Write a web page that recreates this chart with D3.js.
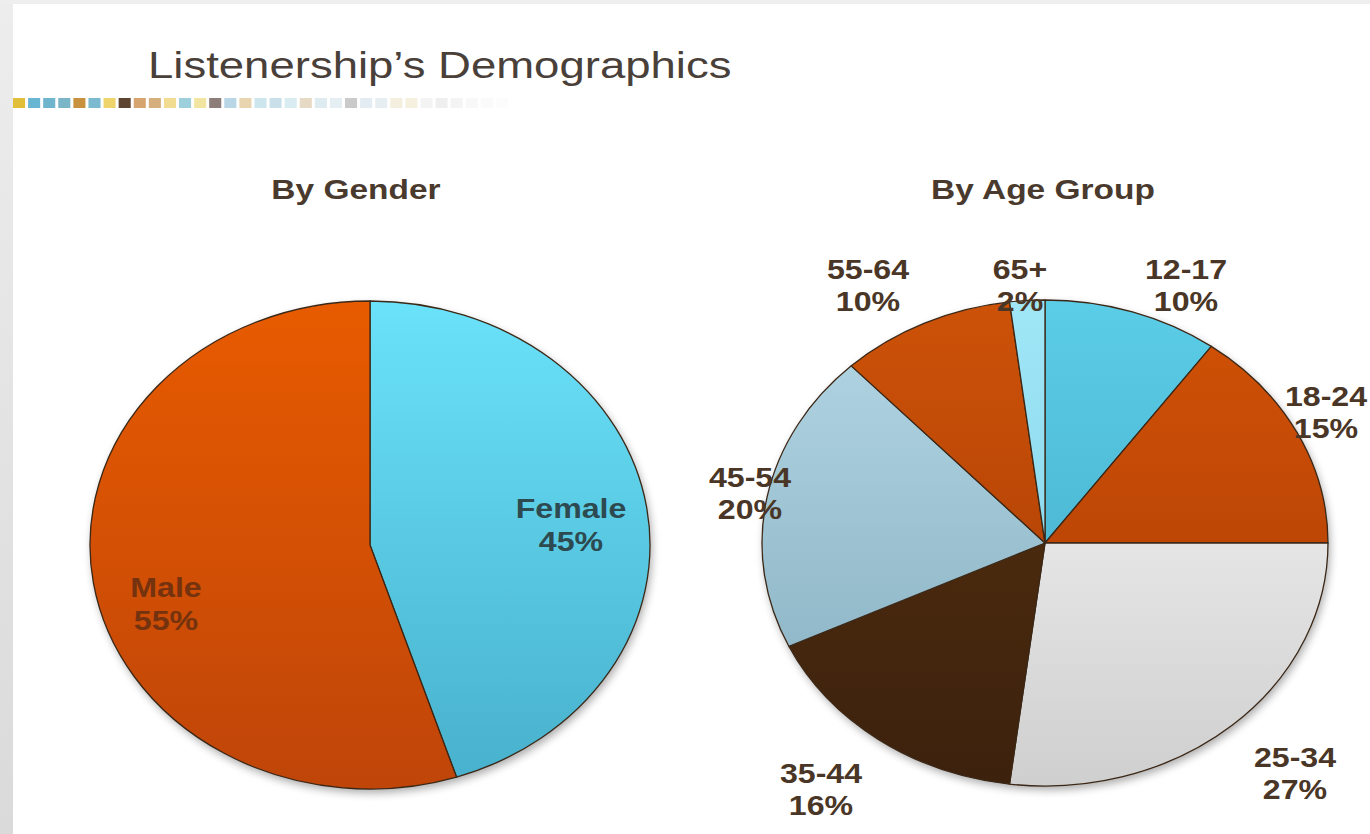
<!DOCTYPE html>
<html>
<head>
<meta charset="utf-8">
<script src="https://cdn.jsdelivr.net/npm/d3@7/dist/d3.min.js"></script>
<style>
  html, body { margin: 0; padding: 0; background: #ffffff; overflow: hidden; }
  svg { display: block; }
</style>
</head>
<body>
<svg id="chart" width="1370" height="834"></svg>
<script>
// ---- data ----
const chartTitle = "Listenership\u2019s Demographics";
const genderTitle = "By Gender";
const ageTitle = "By Age Group";

const genderCategories = ["Female", "Male"];
const genderShares = [45, 55];

const ageGroups = ["12-17", "18-24", "25-34", "35-44", "45-54", "55-64", "65+"];
const ageShares = [10, 15, 27, 16, 20, 10, 2];

// ---- styling ----
const genderFill = {
  "Female": ["#6ae2f9", "#48b0cc"],
  "Male":   ["#e85b00", "#bf4509"]
};
const ageFill = {
  "12-17": ["#5bcde7", "#41a6c3"],
  "18-24": ["#d25206", "#a93b06"],
  "25-34": ["#fbfbfb", "#cfcfcf"],
  "35-44": ["#58330f", "#3c210d"],
  "45-54": ["#b4d7e5", "#84adbe"],
  "55-64": ["#cd5208", "#a53a05"],
  "65+":   ["#a0e6f7", "#7ccfe6"]
};
const genderLabelColor = { "Female": "#2d4a50", "Male": "#74320e" };
const ageLabelColor = "#4a3626";

// label anchors (centre x, first baseline y) around each pie
const genderLabelPos = {
  "Female": [571, 518],
  "Male":   [166, 597]
};
const ageLabelPos = {
  "12-17": [1186, 279],
  "18-24": [1326, 406],
  "25-34": [1295, 767],
  "35-44": [821, 783],
  "45-54": [750, 487],
  "55-64": [868, 279],
  "65+":   [1020, 279]
};

// decorative strip under the title
const stripColors = [
  "#e2bf3a", "#69b6d2", "#70b5ce", "#7ab5c8", "#c8913f", "#7cbbcf", "#eed46b",
  "#5d4430", "#d6a46e", "#d5af7d", "#f1dc91", "#9ecfdd", "#f2e5a1", "#8d7e7a",
  "#b9d6e6", "#e8d4af", "#cde5ec", "#c9e0ea", "#d9ecf2", "#e6dac5", "#deebf1",
  "#e5eef2", "#cacaca", "#e3ecf2", "#e7eef2", "#f3eedd", "#f6f0df", "#f3f3f3",
  "#efefef", "#f4f4f4", "#f8f8f8", "#fafafa", "#fcfcfc"
];

const svg = d3.select("#chart");
const defs = svg.append("defs");

// page frame: light grey edges
const edgeGrad = defs.append("linearGradient").attr("id", "edgeGrad")
  .attr("x1", 0).attr("y1", 0).attr("x2", 0).attr("y2", 1);
edgeGrad.append("stop").attr("offset", 0).attr("stop-color", "#ededed");
edgeGrad.append("stop").attr("offset", 1).attr("stop-color", "#dadada");
svg.append("rect").attr("x", 0).attr("y", 0).attr("width", 1370).attr("height", 834).attr("fill", "#ffffff");
svg.append("rect").attr("x", 0).attr("y", 0).attr("width", 13).attr("height", 834).attr("fill", "url(#edgeGrad)");
svg.append("rect").attr("x", 0).attr("y", 0).attr("width", 1370).attr("height", 4).attr("fill", "#eeeeee");

// blur used for the shadow ellipse under each pie
const shadowBlur = defs.append("filter").attr("id", "shadowBlur")
  .attr("x", "-20%").attr("y", "-20%").attr("width", "140%").attr("height", "140%");
shadowBlur.append("feGaussianBlur").attr("stdDeviation", 4);

const stripBlur = defs.append("filter").attr("id", "stripBlur");
stripBlur.append("feGaussianBlur").attr("stdDeviation", 0.7);

// text helper: horizontally widened lettering
function addText(parent, x, y, str, opts) {
  return parent.append("text")
    .attr("transform", `translate(${x},${y}) scale(${opts.sx || 1.2},1)`)
    .attr("text-anchor", opts.anchor || "middle")
    .attr("font-family", "'Liberation Sans', Arial, sans-serif")
    .attr("font-size", opts.size)
    .attr("font-weight", opts.weight || "bold")
    .attr("fill", opts.color)
    .text(str);
}

// title + strip
addText(svg, 148, 78, chartTitle, { size: 37, weight: "normal", color: "#4a403a", anchor: "start", sx: 1.23 });
const strip = svg.append("g").attr("filter", "url(#stripBlur)");
const stripX = d3.scaleBand().domain(d3.range(stripColors.length))
  .range([13, 13 + 15 * stripColors.length]).paddingInner(0.2).paddingOuter(0);
strip.selectAll("rect").data(stripColors).join("rect")
  .attr("x", (d, i) => stripX(i))
  .attr("y", 98)
  .attr("width", stripX.bandwidth())
  .attr("height", 10)
  .attr("fill", d => d);

// pie builder: circle of radius ry stretched to rx horizontally
function drawPie(id, cx, cy, rx, ry, cats, vals, fills) {
  const data = cats.map((c, i) => ({ cat: c, value: vals[i] }));
  const pie = d3.pie().sort(null).value(d => d.value);
  const arc = d3.arc().innerRadius(0).outerRadius(ry);

  svg.append("ellipse")
    .attr("cx", cx + 2).attr("cy", cy + 4).attr("rx", rx).attr("ry", ry)
    .attr("fill", "#000").attr("opacity", 0.33)
    .attr("filter", "url(#shadowBlur)");

  const g = svg.append("g").attr("transform", `translate(${cx},${cy}) scale(${rx / ry},1)`);

  cats.forEach((c, i) => {
    const lg = defs.append("linearGradient")
      .attr("id", `${id}-grad-${i}`)
      .attr("gradientUnits", "userSpaceOnUse")
      .attr("x1", 0).attr("y1", -ry).attr("x2", 0).attr("y2", ry);
    lg.append("stop").attr("offset", 0).attr("stop-color", fills[c][0]);
    lg.append("stop").attr("offset", 1).attr("stop-color", fills[c][1]);
  });

  g.selectAll("path").data(pie(data)).join("path")
    .attr("d", arc)
    .attr("fill", (d, i) => `url(#${id}-grad-${i})`)
    .attr("stroke", "#3b2716")
    .attr("stroke-width", 1.3)
    .attr("stroke-linejoin", "round")
    .attr("vector-effect", "non-scaling-stroke");
  return g;
}

// section titles
addText(svg, 356, 199, genderTitle, { size: 27, color: "#4a3a2e", sx: 1.24 });
addText(svg, 1043, 199, ageTitle, { size: 27, color: "#4a3a2e", sx: 1.24 });

drawPie("gender", 370, 545, 280, 244, genderCategories, genderShares, genderFill);
drawPie("age", 1045, 543, 283, 243, ageGroups, ageShares, ageFill);

// slice labels: category + share
const labels = svg.append("g");
genderCategories.forEach((c, i) => {
  const [x, y] = genderLabelPos[c];
  addText(labels, x, y, c, { size: 27, color: genderLabelColor[c], sx: 1.19 });
  addText(labels, x, y + 33, `${genderShares[i]}%`, { size: 27, color: genderLabelColor[c], sx: 1.19 });
});
ageGroups.forEach((c, i) => {
  const [x, y] = ageLabelPos[c];
  addText(labels, x, y, c, { size: 27, color: ageLabelColor, sx: 1.19 });
  addText(labels, x, y + 32, `${ageShares[i]}%`, { size: 27, color: ageLabelColor, sx: 1.19 });
});
</script>
</body>
</html>
